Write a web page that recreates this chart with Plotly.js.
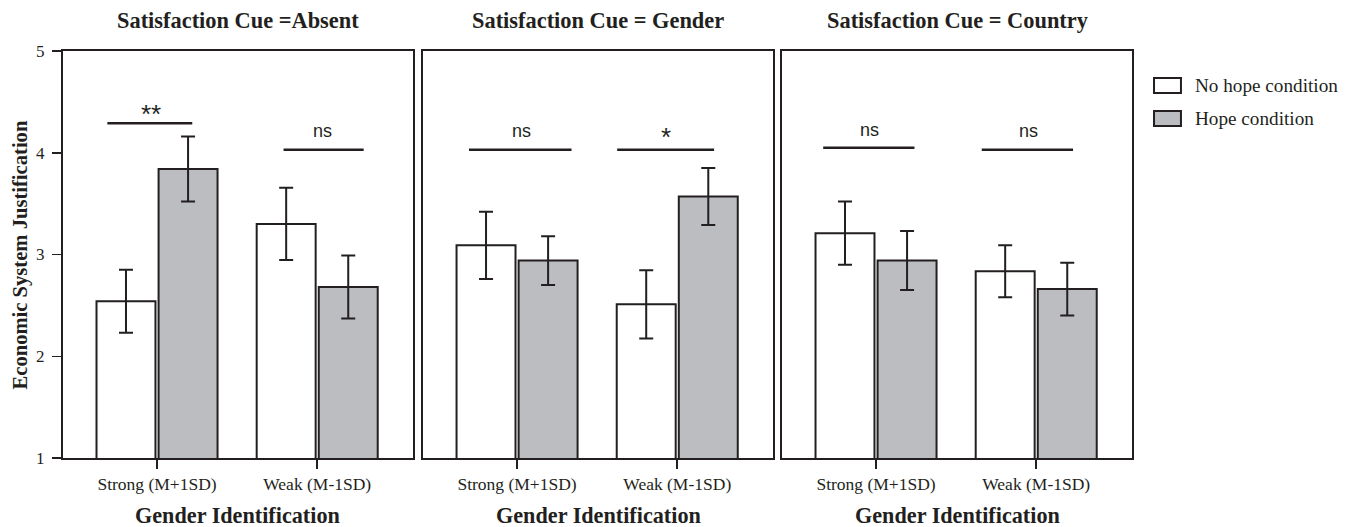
<!DOCTYPE html>
<html>
<head>
<meta charset="utf-8">
<script src="https://cdn.plot.ly/plotly-3.0.1.min.js"></script>
<style>html,body{margin:0;padding:0;background:#fff;}#chart{width:1355px;height:527px;}</style>
</head>
<body>
<div id="chart"></div>
<script>
// ---- data ----
const categories = ['Strong (M+1SD)', 'Weak (M-1SD)'];
const panelTitles = ['Satisfaction Cue =Absent', 'Satisfaction Cue = Gender', 'Satisfaction Cue = Country'];
const seriesNames = ['No hope condition', 'Hope condition'];
const noHope    = [[2.54, 3.30], [3.09, 2.51], [3.21, 2.835]];
const noHopeErr = [[0.31, 0.355], [0.33, 0.335], [0.31, 0.255]];
const hope      = [[3.84, 2.68], [2.94, 3.57], [2.94, 2.66]];
const hopeErr   = [[0.32, 0.31], [0.24, 0.28], [0.29, 0.26]];
const sigLabels = [['**', 'ns'], ['ns', '*'], ['ns', 'ns']];
const sigLineY  = [[4.29, 4.03], [4.03, 4.03], [4.05, 4.03]];
const sigLineX0 = [[-0.31, 0.79], [-0.30, 0.625], [-0.33, 0.66]];
const sigLineX1 = [[0.22, 1.29], [0.34, 1.23], [0.24, 1.23]];
const sigLabelX = [[-0.04, 1.03], [0.025, 0.93], [-0.04, 0.95]];
const sigLabelY = [[4.385, 4.21], [4.21, 4.15], [4.22, 4.21]];
const yTicks = [1, 2, 3, 4, 5];
const xTitle = 'Gender Identification';
const yTitle = 'Economic System Justification';

// ---- style ----
const ink = '#231f20';
const grayFill = '#bbbdc0';
const serif = 'Liberation Serif, Times New Roman, serif';
const sans = 'Liberation Sans, Arial, sans-serif';

const traces = [];
const shapes = [];
const annotations = [];
const suffix = ['', '2', '3'];
const domains = [[0, 0.3274], [0.3368, 0.6642], [0.6726, 1]];

for (let p = 0; p < 3; p++) {
  const xa = 'x' + suffix[p], ya = 'y' + suffix[p];
  traces.push({
    type: 'bar', x: categories, y: noHope[p], name: seriesNames[0], xaxis: xa, yaxis: ya,
    marker: {color: '#ffffff', line: {color: ink, width: 2}},
    error_y: {type: 'data', array: noHopeErr[p], visible: true, color: ink, thickness: 2, width: 7},
    showlegend: false, hoverinfo: 'y'
  });
  traces.push({
    type: 'bar', x: categories, y: hope[p], name: seriesNames[1], xaxis: xa, yaxis: ya,
    marker: {color: grayFill, line: {color: ink, width: 2}},
    error_y: {type: 'data', array: hopeErr[p], visible: true, color: ink, thickness: 2, width: 7},
    showlegend: false, hoverinfo: 'y'
  });
  for (let k = 0; k < 2; k++) {
    const isStar = sigLabels[p][k].indexOf('*') >= 0;
    shapes.push({type: 'line', xref: xa, yref: ya, x0: sigLineX0[p][k], x1: sigLineX1[p][k],
      y0: sigLineY[p][k], y1: sigLineY[p][k], line: {color: ink, width: 2.5}});
    annotations.push({xref: xa, yref: ya, x: sigLabelX[p][k], y: sigLabelY[p][k], text: sigLabels[p][k],
      showarrow: false, xanchor: 'center', yanchor: 'middle',
      font: {family: sans, size: isStar ? 26 : 18, color: ink}});
  }
  annotations.push({xref: xa + ' domain', yref: 'paper', x: 0.5, y: 1.076, text: '<b>' + panelTitles[p] + '</b>',
    showarrow: false, xanchor: 'center', yanchor: 'middle', font: {family: serif, size: 22.4, color: ink}});
  annotations.push({xref: xa + ' domain', yref: 'paper', x: 0.5, y: -0.1425, text: '<b>' + xTitle + '</b>',
    showarrow: false, xanchor: 'center', yanchor: 'middle', font: {family: serif, size: 22.2, color: ink}});
}

annotations.push({xref: 'paper', yref: 'paper', x: -0.0393, y: 0.5, text: '<b>' + yTitle + '</b>', textangle: -90,
  showarrow: false, xanchor: 'center', yanchor: 'middle', font: {family: serif, size: 20.6, color: ink}});

// legend (drawn)
const legFills = ['#ffffff', grayFill];
const legY = [[0.8968, 0.9337], [0.8157, 0.8526]];
for (let i = 0; i < 2; i++) {
  shapes.push({type: 'rect', xref: 'paper', yref: 'paper', x0: 1.0206, x1: 1.0458, y0: legY[i][0], y1: legY[i][1],
    fillcolor: legFills[i], line: {color: ink, width: 2}});
  annotations.push({xref: 'paper', yref: 'paper', x: 1.0575, y: (legY[i][0] + legY[i][1]) / 2, text: seriesNames[i],
    showarrow: false, xanchor: 'left', yanchor: 'middle', font: {family: serif, size: 19.2, color: ink}});
}

const layout = {
  width: 1355, height: 527,
  margin: {l: 63, r: 223, t: 51, b: 69},
  paper_bgcolor: '#ffffff', plot_bgcolor: '#ffffff',
  barmode: 'group', bargap: 0.225, bargroupgap: 0.05,
  showlegend: false,
  shapes: shapes, annotations: annotations,
  font: {family: serif, color: ink}
};
for (let p = 0; p < 3; p++) {
  layout['xaxis' + suffix[p]] = {
    domain: domains[p], anchor: 'y' + suffix[p], type: 'category', range: [-0.587, 1.598],
    showline: true, mirror: true, linecolor: ink, linewidth: 2,
    ticks: 'outside', ticklen: 9, tickwidth: 2, tickcolor: ink,
    showgrid: false, zeroline: false, fixedrange: true,
    tickfont: {family: serif, size: 17.5, color: ink}
  };
  layout['yaxis' + suffix[p]] = {
    domain: [0, 1], anchor: 'x' + suffix[p], range: [1, 5],
    tickvals: yTicks, ticktext: yTicks.map(String),
    showline: true, mirror: true, linecolor: ink, linewidth: 2,
    ticks: p === 0 ? 'outside' : '', ticklen: 9, tickwidth: 1.5, tickcolor: ink,
    showticklabels: p === 0, ticklabelstandoff: 4,
    showgrid: false, zeroline: false, fixedrange: true,
    tickfont: {family: serif, size: 17, color: ink}
  };
  if (p > 0) layout['yaxis' + suffix[p]].matches = 'y';
}

Plotly.newPlot('chart', traces, layout, {displayModeBar: false, staticPlot: true});
</script>
</body>
</html>
